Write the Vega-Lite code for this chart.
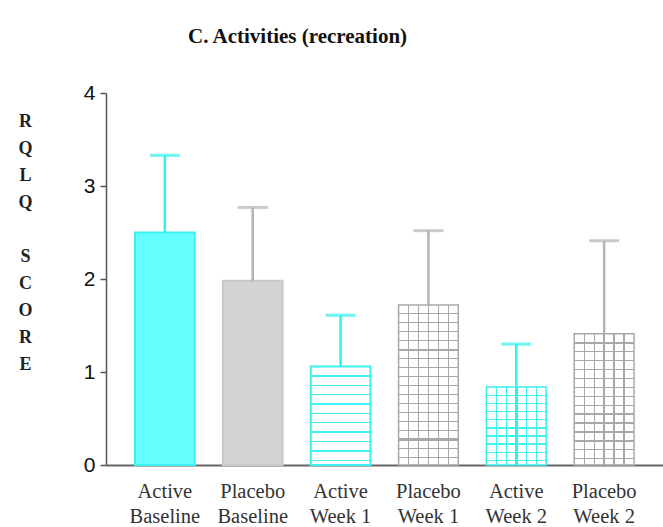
{
  "$schema": "https://vega.github.io/schema/vega-lite/v6.json",
  "autosize": "none",
  "width": 557,
  "height": 372,
  "padding": {"left": 106, "top": 93, "right": 0, "bottom": 62},
  "background": "#ffffff",
  "config": {"view": {"stroke": null}},
  "title": {
    "text": "C. Activities (recreation)",
    "anchor": "start",
    "frame": "group",
    "dx": 82,
    "offset": 35,
    "font": "Liberation Serif",
    "fontSize": 21,
    "fontWeight": "bold",
    "color": "#111111"
  },
  "data": {
    "values": [
      {"label": "Active Baseline", "group": "Active", "time": "Baseline", "mean": 2.50, "upper": 3.33},
      {"label": "Placebo Baseline", "group": "Placebo", "time": "Baseline", "mean": 1.98, "upper": 2.77},
      {"label": "Active Week 1", "group": "Active", "time": "Week 1", "mean": 1.06, "upper": 1.61},
      {"label": "Placebo Week 1", "group": "Placebo", "time": "Week 1", "mean": 1.72, "upper": 2.52},
      {"label": "Active Week 2", "group": "Active", "time": "Week 2", "mean": 0.84, "upper": 1.30},
      {"label": "Placebo Week 2", "group": "Placebo", "time": "Week 2", "mean": 1.41, "upper": 2.41}
    ]
  },
  "encoding": {
    "x": {
      "field": "label",
      "type": "nominal",
      "sort": null,
      "scale": {"paddingInner": 0.32, "paddingOuter": 0.33},
      "axis": {
        "title": null,
        "labelAngle": 0,
        "labelExpr": "[substring(datum.label, 0, indexof(datum.label, ' ')), substring(datum.label, indexof(datum.label, ' ') + 1)]",
        "labelFont": "Liberation Serif",
        "labelFontSize": 20.5,
        "labelColor": "#333333",
        "labelLineHeight": 25,
        "labelPadding": 16,
        "ticks": false,
        "tickSize": 0,
        "domainColor": "#666666",
        "domainWidth": 2,
        "grid": false
      }
    }
  },
  "layer": [
    {
      "transform": [{"filter": "datum.time === 'Baseline'"}],
      "mark": {"type": "bar", "strokeWidth": 2},
      "encoding": {
        "y": {
          "field": "mean",
          "type": "quantitative",
          "scale": {"domain": [0, 4]},
          "axis": {
            "values": [0, 1, 2, 3, 4],
            "format": "d",
            "grid": false,
            "title": ["R", "Q", "L", "Q", "\u200b", "S", "C", "O", "R", "E"],
            "titleAngle": 0,
            "titleAlign": "center",
            "titleBaseline": "alphabetic",
            "titleX": -81,
            "titleY": 33,
            "titleLineHeight": 27,
            "titleFont": "Liberation Serif",
            "titleFontSize": 18,
            "titleFontWeight": "bold",
            "titleColor": "#222222",
            "labelFont": "Liberation Sans",
            "labelFontSize": 21,
            "labelColor": "#111111",
            "labelPadding": 5,
            "tickSize": 6,
            "tickColor": "#555555",
            "tickWidth": 1.5,
            "domainColor": "#555555",
            "domainWidth": 1.5
          }
        },
        "fill": {"field": "group", "type": "nominal", "scale": {"domain": ["Active", "Placebo"], "range": ["#66ffff", "#d4d4d4"]}, "legend": null},
        "stroke": {"field": "group", "type": "nominal", "scale": {"domain": ["Active", "Placebo"], "range": ["#3af0f0", "#c8c8c8"]}, "legend": null}
      }
    },
    {
      "transform": [{"filter": "datum.label === 'Active Week 1'"}],
      "mark": {
        "type": "bar",
        "stroke": "#3af0f0",
        "strokeWidth": 2,
        "fill": {
          "gradient": "linear", "x1": 0, "y1": 0, "x2": 0, "y2": 1,
          "stops": [
            {"offset": 0, "color": "#ffffff"},
            {"offset": 0.089, "color": "#ffffff"}, {"offset": 0.089, "color": "#40f2f2"}, {"offset": 0.103, "color": "#40f2f2"}, {"offset": 0.103, "color": "#ffffff"},
            {"offset": 0.184, "color": "#ffffff"}, {"offset": 0.184, "color": "#40f2f2"}, {"offset": 0.198, "color": "#40f2f2"}, {"offset": 0.198, "color": "#ffffff"},
            {"offset": 0.279, "color": "#ffffff"}, {"offset": 0.279, "color": "#40f2f2"}, {"offset": 0.293, "color": "#40f2f2"}, {"offset": 0.293, "color": "#ffffff"},
            {"offset": 0.374, "color": "#ffffff"}, {"offset": 0.374, "color": "#40f2f2"}, {"offset": 0.388, "color": "#40f2f2"}, {"offset": 0.388, "color": "#ffffff"},
            {"offset": 0.470, "color": "#ffffff"}, {"offset": 0.470, "color": "#40f2f2"}, {"offset": 0.484, "color": "#40f2f2"}, {"offset": 0.484, "color": "#ffffff"},
            {"offset": 0.565, "color": "#ffffff"}, {"offset": 0.565, "color": "#40f2f2"}, {"offset": 0.579, "color": "#40f2f2"}, {"offset": 0.579, "color": "#ffffff"},
            {"offset": 0.660, "color": "#ffffff"}, {"offset": 0.660, "color": "#40f2f2"}, {"offset": 0.674, "color": "#40f2f2"}, {"offset": 0.674, "color": "#ffffff"},
            {"offset": 0.756, "color": "#ffffff"}, {"offset": 0.756, "color": "#40f2f2"}, {"offset": 0.770, "color": "#40f2f2"}, {"offset": 0.770, "color": "#ffffff"},
            {"offset": 0.851, "color": "#ffffff"}, {"offset": 0.851, "color": "#40f2f2"}, {"offset": 0.865, "color": "#40f2f2"}, {"offset": 0.865, "color": "#ffffff"},
            {"offset": 0.946, "color": "#ffffff"}, {"offset": 0.946, "color": "#40f2f2"}, {"offset": 0.960, "color": "#40f2f2"}, {"offset": 0.960, "color": "#ffffff"},
            {"offset": 1, "color": "#ffffff"}
          ]
        }
      },
      "encoding": {"y": {"field": "mean", "type": "quantitative"}}
    },
    {
      "transform": [{"filter": "datum.label === 'Placebo Week 1'"}],
      "mark": {
        "type": "bar",
        "stroke": "#a8a8a8",
        "strokeWidth": 1.5,
        "fill": {
          "gradient": "linear", "x1": 0, "y1": 0, "x2": 0, "y2": 1,
          "stops": [
            {"offset": 0, "color": "#ffffff"},
            {"offset": 0.050, "color": "#ffffff"}, {"offset": 0.050, "color": "#a8a8a8"}, {"offset": 0.058, "color": "#a8a8a8"}, {"offset": 0.058, "color": "#ffffff"},
            {"offset": 0.106, "color": "#ffffff"}, {"offset": 0.106, "color": "#a8a8a8"}, {"offset": 0.114, "color": "#a8a8a8"}, {"offset": 0.114, "color": "#ffffff"},
            {"offset": 0.162, "color": "#ffffff"}, {"offset": 0.162, "color": "#a8a8a8"}, {"offset": 0.170, "color": "#a8a8a8"}, {"offset": 0.170, "color": "#ffffff"},
            {"offset": 0.218, "color": "#ffffff"}, {"offset": 0.218, "color": "#a8a8a8"}, {"offset": 0.226, "color": "#a8a8a8"}, {"offset": 0.226, "color": "#ffffff"},
            {"offset": 0.272, "color": "#ffffff"}, {"offset": 0.272, "color": "#a8a8a8"}, {"offset": 0.286, "color": "#a8a8a8"}, {"offset": 0.286, "color": "#ffffff"},
            {"offset": 0.331, "color": "#ffffff"}, {"offset": 0.331, "color": "#a8a8a8"}, {"offset": 0.339, "color": "#a8a8a8"}, {"offset": 0.339, "color": "#ffffff"},
            {"offset": 0.387, "color": "#ffffff"}, {"offset": 0.387, "color": "#a8a8a8"}, {"offset": 0.395, "color": "#a8a8a8"}, {"offset": 0.395, "color": "#ffffff"},
            {"offset": 0.443, "color": "#ffffff"}, {"offset": 0.443, "color": "#a8a8a8"}, {"offset": 0.451, "color": "#a8a8a8"}, {"offset": 0.451, "color": "#ffffff"},
            {"offset": 0.500, "color": "#ffffff"}, {"offset": 0.500, "color": "#a8a8a8"}, {"offset": 0.508, "color": "#a8a8a8"}, {"offset": 0.508, "color": "#ffffff"},
            {"offset": 0.556, "color": "#ffffff"}, {"offset": 0.556, "color": "#a8a8a8"}, {"offset": 0.564, "color": "#a8a8a8"}, {"offset": 0.564, "color": "#ffffff"},
            {"offset": 0.612, "color": "#ffffff"}, {"offset": 0.612, "color": "#a8a8a8"}, {"offset": 0.620, "color": "#a8a8a8"}, {"offset": 0.620, "color": "#ffffff"},
            {"offset": 0.668, "color": "#ffffff"}, {"offset": 0.668, "color": "#a8a8a8"}, {"offset": 0.676, "color": "#a8a8a8"}, {"offset": 0.676, "color": "#ffffff"},
            {"offset": 0.725, "color": "#ffffff"}, {"offset": 0.725, "color": "#a8a8a8"}, {"offset": 0.733, "color": "#a8a8a8"}, {"offset": 0.733, "color": "#ffffff"},
            {"offset": 0.781, "color": "#ffffff"}, {"offset": 0.781, "color": "#a8a8a8"}, {"offset": 0.789, "color": "#a8a8a8"}, {"offset": 0.789, "color": "#ffffff"},
            {"offset": 0.834, "color": "#ffffff"}, {"offset": 0.834, "color": "#a8a8a8"}, {"offset": 0.848, "color": "#a8a8a8"}, {"offset": 0.848, "color": "#ffffff"},
            {"offset": 0.893, "color": "#ffffff"}, {"offset": 0.893, "color": "#a8a8a8"}, {"offset": 0.901, "color": "#a8a8a8"}, {"offset": 0.901, "color": "#ffffff"},
            {"offset": 0.950, "color": "#ffffff"}, {"offset": 0.950, "color": "#a8a8a8"}, {"offset": 0.958, "color": "#a8a8a8"}, {"offset": 0.958, "color": "#ffffff"},
            {"offset": 1, "color": "#ffffff"}
          ]
        }
      },
      "encoding": {"y": {"field": "mean", "type": "quantitative"}}
    },
    {
      "transform": [{"filter": "datum.label === 'Active Week 2'"}],
      "mark": {
        "type": "bar",
        "stroke": "#3af0f0",
        "strokeWidth": 1.5,
        "fill": {
          "gradient": "linear", "x1": 0, "y1": 0, "x2": 0, "y2": 1,
          "stops": [
            {"offset": 0, "color": "#ffffff"},
            {"offset": 0.098, "color": "#ffffff"}, {"offset": 0.098, "color": "#40f2f2"}, {"offset": 0.114, "color": "#40f2f2"}, {"offset": 0.114, "color": "#ffffff"},
            {"offset": 0.203, "color": "#ffffff"}, {"offset": 0.203, "color": "#40f2f2"}, {"offset": 0.219, "color": "#40f2f2"}, {"offset": 0.219, "color": "#ffffff"},
            {"offset": 0.307, "color": "#ffffff"}, {"offset": 0.307, "color": "#40f2f2"}, {"offset": 0.323, "color": "#40f2f2"}, {"offset": 0.323, "color": "#ffffff"},
            {"offset": 0.412, "color": "#ffffff"}, {"offset": 0.412, "color": "#40f2f2"}, {"offset": 0.428, "color": "#40f2f2"}, {"offset": 0.428, "color": "#ffffff"},
            {"offset": 0.517, "color": "#ffffff"}, {"offset": 0.517, "color": "#40f2f2"}, {"offset": 0.533, "color": "#40f2f2"}, {"offset": 0.533, "color": "#ffffff"},
            {"offset": 0.622, "color": "#ffffff"}, {"offset": 0.622, "color": "#40f2f2"}, {"offset": 0.638, "color": "#40f2f2"}, {"offset": 0.638, "color": "#ffffff"},
            {"offset": 0.721, "color": "#ffffff"}, {"offset": 0.721, "color": "#40f2f2"}, {"offset": 0.747, "color": "#40f2f2"}, {"offset": 0.747, "color": "#ffffff"},
            {"offset": 0.831, "color": "#ffffff"}, {"offset": 0.831, "color": "#40f2f2"}, {"offset": 0.847, "color": "#40f2f2"}, {"offset": 0.847, "color": "#ffffff"},
            {"offset": 0.936, "color": "#ffffff"}, {"offset": 0.936, "color": "#40f2f2"}, {"offset": 0.952, "color": "#40f2f2"}, {"offset": 0.952, "color": "#ffffff"},
            {"offset": 1, "color": "#ffffff"}
          ]
        }
      },
      "encoding": {"y": {"field": "mean", "type": "quantitative"}}
    },
    {
      "transform": [{"filter": "datum.label === 'Placebo Week 2'"}],
      "mark": {
        "type": "bar",
        "stroke": "#a8a8a8",
        "strokeWidth": 1.5,
        "fill": {
          "gradient": "linear", "x1": 0, "y1": 0, "x2": 0, "y2": 1,
          "stops": [
            {"offset": 0, "color": "#ffffff"},
            {"offset": 0.064, "color": "#ffffff"}, {"offset": 0.064, "color": "#a8a8a8"}, {"offset": 0.074, "color": "#a8a8a8"}, {"offset": 0.074, "color": "#ffffff"},
            {"offset": 0.132, "color": "#ffffff"}, {"offset": 0.132, "color": "#a8a8a8"}, {"offset": 0.142, "color": "#a8a8a8"}, {"offset": 0.142, "color": "#ffffff"},
            {"offset": 0.200, "color": "#ffffff"}, {"offset": 0.200, "color": "#a8a8a8"}, {"offset": 0.210, "color": "#a8a8a8"}, {"offset": 0.210, "color": "#ffffff"},
            {"offset": 0.268, "color": "#ffffff"}, {"offset": 0.268, "color": "#a8a8a8"}, {"offset": 0.278, "color": "#a8a8a8"}, {"offset": 0.278, "color": "#ffffff"},
            {"offset": 0.336, "color": "#ffffff"}, {"offset": 0.336, "color": "#a8a8a8"}, {"offset": 0.346, "color": "#a8a8a8"}, {"offset": 0.346, "color": "#ffffff"},
            {"offset": 0.403, "color": "#ffffff"}, {"offset": 0.403, "color": "#a8a8a8"}, {"offset": 0.413, "color": "#a8a8a8"}, {"offset": 0.413, "color": "#ffffff"},
            {"offset": 0.471, "color": "#ffffff"}, {"offset": 0.471, "color": "#a8a8a8"}, {"offset": 0.481, "color": "#a8a8a8"}, {"offset": 0.481, "color": "#ffffff"},
            {"offset": 0.539, "color": "#ffffff"}, {"offset": 0.539, "color": "#a8a8a8"}, {"offset": 0.549, "color": "#a8a8a8"}, {"offset": 0.549, "color": "#ffffff"},
            {"offset": 0.607, "color": "#ffffff"}, {"offset": 0.607, "color": "#a8a8a8"}, {"offset": 0.617, "color": "#a8a8a8"}, {"offset": 0.617, "color": "#ffffff"},
            {"offset": 0.675, "color": "#ffffff"}, {"offset": 0.675, "color": "#a8a8a8"}, {"offset": 0.685, "color": "#a8a8a8"}, {"offset": 0.685, "color": "#ffffff"},
            {"offset": 0.743, "color": "#ffffff"}, {"offset": 0.743, "color": "#a8a8a8"}, {"offset": 0.753, "color": "#a8a8a8"}, {"offset": 0.753, "color": "#ffffff"},
            {"offset": 0.807, "color": "#ffffff"}, {"offset": 0.807, "color": "#a8a8a8"}, {"offset": 0.825, "color": "#a8a8a8"}, {"offset": 0.825, "color": "#ffffff"},
            {"offset": 0.879, "color": "#ffffff"}, {"offset": 0.879, "color": "#a8a8a8"}, {"offset": 0.889, "color": "#a8a8a8"}, {"offset": 0.889, "color": "#ffffff"},
            {"offset": 0.947, "color": "#ffffff"}, {"offset": 0.947, "color": "#a8a8a8"}, {"offset": 0.957, "color": "#a8a8a8"}, {"offset": 0.957, "color": "#ffffff"},
            {"offset": 1, "color": "#ffffff"}
          ]
        }
      },
      "encoding": {"y": {"field": "mean", "type": "quantitative"}}
    },
    {
      "transform": [{"filter": "datum.label === 'Placebo Week 1' || datum.label === 'Placebo Week 2'"}],
      "mark": {
        "type": "bar",
        "strokeWidth": 0,
        "fill": {
          "gradient": "linear", "x1": 0, "y1": 0, "x2": 1, "y2": 0,
          "stops": [
            {"offset": 0, "color": "rgba(255,255,255,0)"},
            {"offset": 0.156, "color": "rgba(255,255,255,0)"}, {"offset": 0.156, "color": "#a8a8a8"}, {"offset": 0.178, "color": "#a8a8a8"}, {"offset": 0.178, "color": "rgba(255,255,255,0)"},
            {"offset": 0.322, "color": "rgba(255,255,255,0)"}, {"offset": 0.322, "color": "#a8a8a8"}, {"offset": 0.344, "color": "#a8a8a8"}, {"offset": 0.344, "color": "rgba(255,255,255,0)"},
            {"offset": 0.489, "color": "rgba(255,255,255,0)"}, {"offset": 0.489, "color": "#a8a8a8"}, {"offset": 0.511, "color": "#a8a8a8"}, {"offset": 0.511, "color": "rgba(255,255,255,0)"},
            {"offset": 0.656, "color": "rgba(255,255,255,0)"}, {"offset": 0.656, "color": "#a8a8a8"}, {"offset": 0.678, "color": "#a8a8a8"}, {"offset": 0.678, "color": "rgba(255,255,255,0)"},
            {"offset": 0.822, "color": "rgba(255,255,255,0)"}, {"offset": 0.822, "color": "#a8a8a8"}, {"offset": 0.844, "color": "#a8a8a8"}, {"offset": 0.844, "color": "rgba(255,255,255,0)"},
            {"offset": 1, "color": "rgba(255,255,255,0)"}
          ]
        }
      },
      "encoding": {"y": {"field": "mean", "type": "quantitative"}}
    },
    {
      "transform": [{"filter": "datum.label === 'Active Week 2'"}],
      "mark": {
        "type": "bar",
        "strokeWidth": 0,
        "fill": {
          "gradient": "linear", "x1": 0, "y1": 0, "x2": 1, "y2": 0,
          "stops": [
            {"offset": 0, "color": "rgba(255,255,255,0)"},
            {"offset": 0.156, "color": "rgba(255,255,255,0)"}, {"offset": 0.156, "color": "#40f2f2"}, {"offset": 0.178, "color": "#40f2f2"}, {"offset": 0.178, "color": "rgba(255,255,255,0)"},
            {"offset": 0.322, "color": "rgba(255,255,255,0)"}, {"offset": 0.322, "color": "#40f2f2"}, {"offset": 0.344, "color": "#40f2f2"}, {"offset": 0.344, "color": "rgba(255,255,255,0)"},
            {"offset": 0.478, "color": "rgba(255,255,255,0)"}, {"offset": 0.478, "color": "#2eeeee"}, {"offset": 0.522, "color": "#2eeeee"}, {"offset": 0.522, "color": "rgba(255,255,255,0)"},
            {"offset": 0.656, "color": "rgba(255,255,255,0)"}, {"offset": 0.656, "color": "#40f2f2"}, {"offset": 0.678, "color": "#40f2f2"}, {"offset": 0.678, "color": "rgba(255,255,255,0)"},
            {"offset": 0.822, "color": "rgba(255,255,255,0)"}, {"offset": 0.822, "color": "#40f2f2"}, {"offset": 0.844, "color": "#40f2f2"}, {"offset": 0.844, "color": "rgba(255,255,255,0)"},
            {"offset": 1, "color": "rgba(255,255,255,0)"}
          ]
        }
      },
      "encoding": {"y": {"field": "mean", "type": "quantitative"}}
    },
    {
      "mark": {"type": "rule", "strokeWidth": 2.5},
      "encoding": {
        "y": {"field": "mean", "type": "quantitative"},
        "y2": {"field": "upper"},
        "stroke": {"field": "group", "type": "nominal", "scale": {"domain": ["Active", "Placebo"], "range": ["#2ef0f0", "#b3b3b3"]}, "legend": null}
      }
    },
    {
      "mark": {"type": "tick", "thickness": 3, "size": 30},
      "encoding": {
        "y": {"field": "upper", "type": "quantitative"},
        "color": {"field": "group", "type": "nominal", "scale": {"domain": ["Active", "Placebo"], "range": ["#2ef0f0", "#b3b3b3"]}, "legend": null}
      }
    }
  ],
  "resolve": {"scale": {"fill": "independent", "stroke": "independent", "color": "independent"}}
}
